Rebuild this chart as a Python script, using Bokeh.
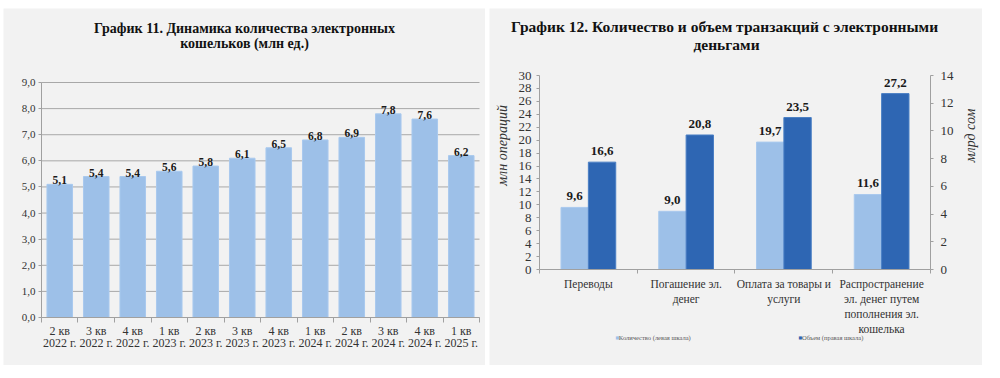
import numpy as np
from bokeh.plotting import figure
from bokeh.models import FixedTicker, Range1d, LinearAxis, Label
from bokeh.layouts import row
from bokeh.embed import file_html
from bokeh.resources import INLINE
from bokeh.core.properties import value

# ---------------- data ----------------
quarters = ["2 кв\n2022 г.", "3 кв\n2022 г.", "4 кв\n2022 г.", "1 кв\n2023 г.",
            "2 кв\n2023 г.", "3 кв\n2023 г.", "4 кв\n2023 г.", "1 кв\n2024 г.",
            "2 кв\n2024 г.", "3 кв\n2024 г.", "4 кв\n2024 г.", "1 кв\n2025 г."]
wallets = [5.1, 5.4, 5.4, 5.6, 5.8, 6.1, 6.5, 6.8, 6.9, 7.8, 7.6, 6.2]
wallet_ticks = [0, 1, 2, 3, 4, 5, 6, 7, 8, 9]

categories = ["Переводы", "Погашение эл.\nденег", "Оплата за товары и\nуслуги",
              "Распространение\nэл. денег путем\nпополнения эл.\nкошелька"]
count_vals = [9.6, 9.0, 19.7, 11.6]
volume_vals = [16.6, 20.8, 23.5, 27.2]
left_ticks = list(range(0, 31, 2))
right_ticks = list(range(0, 15, 2))

title1 = ["График 11. Динамика количества электронных", "кошельков (млн ед.)"]
title2 = ["График 12. Количество и объем  транзакций с электронными", "деньгами"]
ylabel_left = "млн операций"
ylabel_right = "млрд сом"
legend_labels = ["Количество (левая шкала)", "Объем (правая шкала)"]

# ---------------- style ----------------
SERIF = "Liberation Serif"
BG = "#f2f2f2"
LIGHT = "#9dc0e8"
DARK = "#2e66b3"
AXIS = "#a0a0a0"
TXT = "#333333"


def fmt(v):
    return f"{v:.1f}".replace(".", ",")


def styled(ax, size):
    ax.major_label_text_font = SERIF
    ax.major_label_text_color = TXT
    ax.major_label_text_font_size = size
    ax.axis_line_color = AXIS
    ax.major_tick_line_color = AXIS
    ax.minor_tick_line_color = AXIS
    return ax


def panel(w, xr, yr):
    p = figure(width=w, height=357, x_range=xr, y_range=yr,
               x_axis_type=None, y_axis_type=None,
               output_backend="svg", toolbar_location=None, min_border=0)
    p.background_fill_color = BG
    p.border_fill_color = BG
    p.outline_line_color = None
    return p


def category_axes(p, labels, size, tick_out, standoff, step):
    """Category axis below the bars; one axis per text line of the labels."""
    n = len(labels)
    ticks = list(range(n))
    split = [lab.split("\n") for lab in labels]
    nlines = max(len(s) for s in split)
    for k in range(nlines):
        ax = styled(LinearAxis(fixed_location=0, bounds=(-0.5, n - 0.5)), size)
        if k == 0:
            ax.ticker = FixedTicker(ticks=ticks, minor_ticks=[i - 0.5 for i in range(n + 1)])
            ax.minor_tick_out = tick_out
            ax.minor_tick_in = 0
            ax.major_label_standoff = standoff
        else:
            ax.ticker = FixedTicker(ticks=ticks, minor_ticks=[])
            ax.axis_line_color = None
            ax.minor_tick_line_color = None
            ax.minor_tick_out = 0
            ax.minor_tick_in = 0
            ax.major_label_standoff = tick_out + standoff + k * step
        ax.major_tick_line_color = None
        ax.major_tick_out = 0
        ax.major_tick_in = 0
        ax.major_label_overrides = {i: (s[k] if k < len(s) else "") for i, s in zip(ticks, split)}
        p.add_layout(ax, "below")


# ---------------- left chart ----------------
n1 = len(quarters)
x1 = np.arange(n1)
p1 = panel(482, Range1d(-1.541, 11.664), Range1d(-1.838, 11.834))
p1.margin = (8, 0, 0, 3)

yax = styled(LinearAxis(ticker=FixedTicker(ticks=wallet_ticks), fixed_location=-0.5,
                        bounds=(0, 9)), "11px")
yax.major_label_overrides = {t: fmt(t) for t in wallet_ticks}
yax.major_tick_out = 3
yax.major_tick_in = 0
yax.major_label_standoff = 3
yax.minor_tick_line_color = None
p1.add_layout(yax, "left")

category_axes(p1, quarters, "12px", tick_out=5, standoff=1, step=12)

# horizontal grid lines at the tick values
p1.segment(x0=-0.5, x1=n1 - 0.5, y0=wallet_ticks, y1=wallet_ticks,
           line_color="#a8a8a8", line_width=1)
p1.vbar(x=x1, top=wallets, width=0.7, fill_color=LIGHT, line_color="#a9c9ee")
p1.text(x=x1, y=wallets, text=[fmt(v) for v in wallets], text_align="center",
        text_baseline="bottom", y_offset=0, text_font=value(SERIF), text_font_style="bold",
        text_font_size="11.5px", text_color="#1a1a1a")

for txt, yy in zip(title1, [11.068, 10.494]):
    p1.add_layout(Label(x=5.062, y=yy, text=txt, text_align="center", text_baseline="middle",
                        text_font=SERIF, text_font_style="bold", text_font_size="14px",
                        text_color="#111111"))

# ---------------- right chart ----------------
n2 = len(categories)
x2 = np.arange(n2)
p2 = panel(493, Range1d(-1.0115, 4.032), Range1d(-14.845, 40.361))
p2.margin = (8, 0, 0, 4)
p2.extra_y_ranges = {"right": Range1d(-14.845 * 14 / 30, 40.361 * 14 / 30)}

lax = styled(LinearAxis(ticker=FixedTicker(ticks=left_ticks), fixed_location=-0.5,
                        bounds=(0, 30)), "13px")
rax = styled(LinearAxis(ticker=FixedTicker(ticks=right_ticks), fixed_location=n2 - 0.5,
                        bounds=(0, 14), y_range_name="right"), "13px")
for ax in (lax, rax):
    ax.major_tick_out = 3
    ax.major_tick_in = 0
    ax.minor_tick_line_color = None
lax.major_label_standoff = 5
rax.major_label_standoff = 7
p2.add_layout(lax, "left")
p2.add_layout(rax, "right")

category_axes(p2, categories, "11.5px", tick_out=4, standoff=4, step=15)

off = 0.14
p2.vbar(x=x2 - off, top=count_vals, width=0.28, fill_color=LIGHT, line_color="#a9c9ee")
p2.vbar(x=x2 + off, top=volume_vals, width=0.28, fill_color=DARK, line_color="#4a7fc4")
p2.text(x=x2 - off, y=count_vals, text=[fmt(v) for v in count_vals], text_align="center",
        text_baseline="bottom", y_offset=-7, text_font=value(SERIF), text_font_style="bold",
        text_font_size="13px", text_color="#1a1a1a")
p2.text(x=x2 + off, y=volume_vals, text=[fmt(v) for v in volume_vals], text_align="center",
        text_baseline="bottom", y_offset=-7, text_font=value(SERIF), text_font_style="bold",
        text_font_size="13px", text_color="#1a1a1a")

for txt, yy in zip(title2, [37.58, 34.79]):
    p2.add_layout(Label(x=1.413, y=yy, text=txt, text_align="center", text_baseline="middle",
                        text_font=SERIF, text_font_style="bold", text_font_size="15.5px",
                        text_color="#111111"))

p2.add_layout(Label(x=-0.879, y=19.18, text=ylabel_left, angle=np.pi / 2,
                    text_align="center", text_baseline="middle", text_font=SERIF,
                    text_font_style="italic", text_font_size="14px", text_color=TXT))
p2.add_layout(Label(x=3.909, y=20.72, text=ylabel_right, angle=np.pi / 2,
                    text_align="center", text_baseline="middle", text_font=SERIF,
                    text_font_style="italic", text_font_size="14px", text_color=TXT))

for lx, lab, col in zip([0.277, 2.15], legend_labels, [LIGHT, DARK]):
    p2.add_layout(Label(x=lx, y=-10.51, text="■", text_align="left", text_baseline="middle",
                        text_font="DejaVu Sans", text_font_size="4px", text_color=col))
    p2.add_layout(Label(x=lx + 0.035, y=-10.51, text=lab, text_align="left",
                        text_baseline="middle", text_font=SERIF, text_font_size="6.5px",
                        text_color="#595959"))

layout = row(p1, p2)
open("out.html", "w").write(file_html(layout, INLINE))
